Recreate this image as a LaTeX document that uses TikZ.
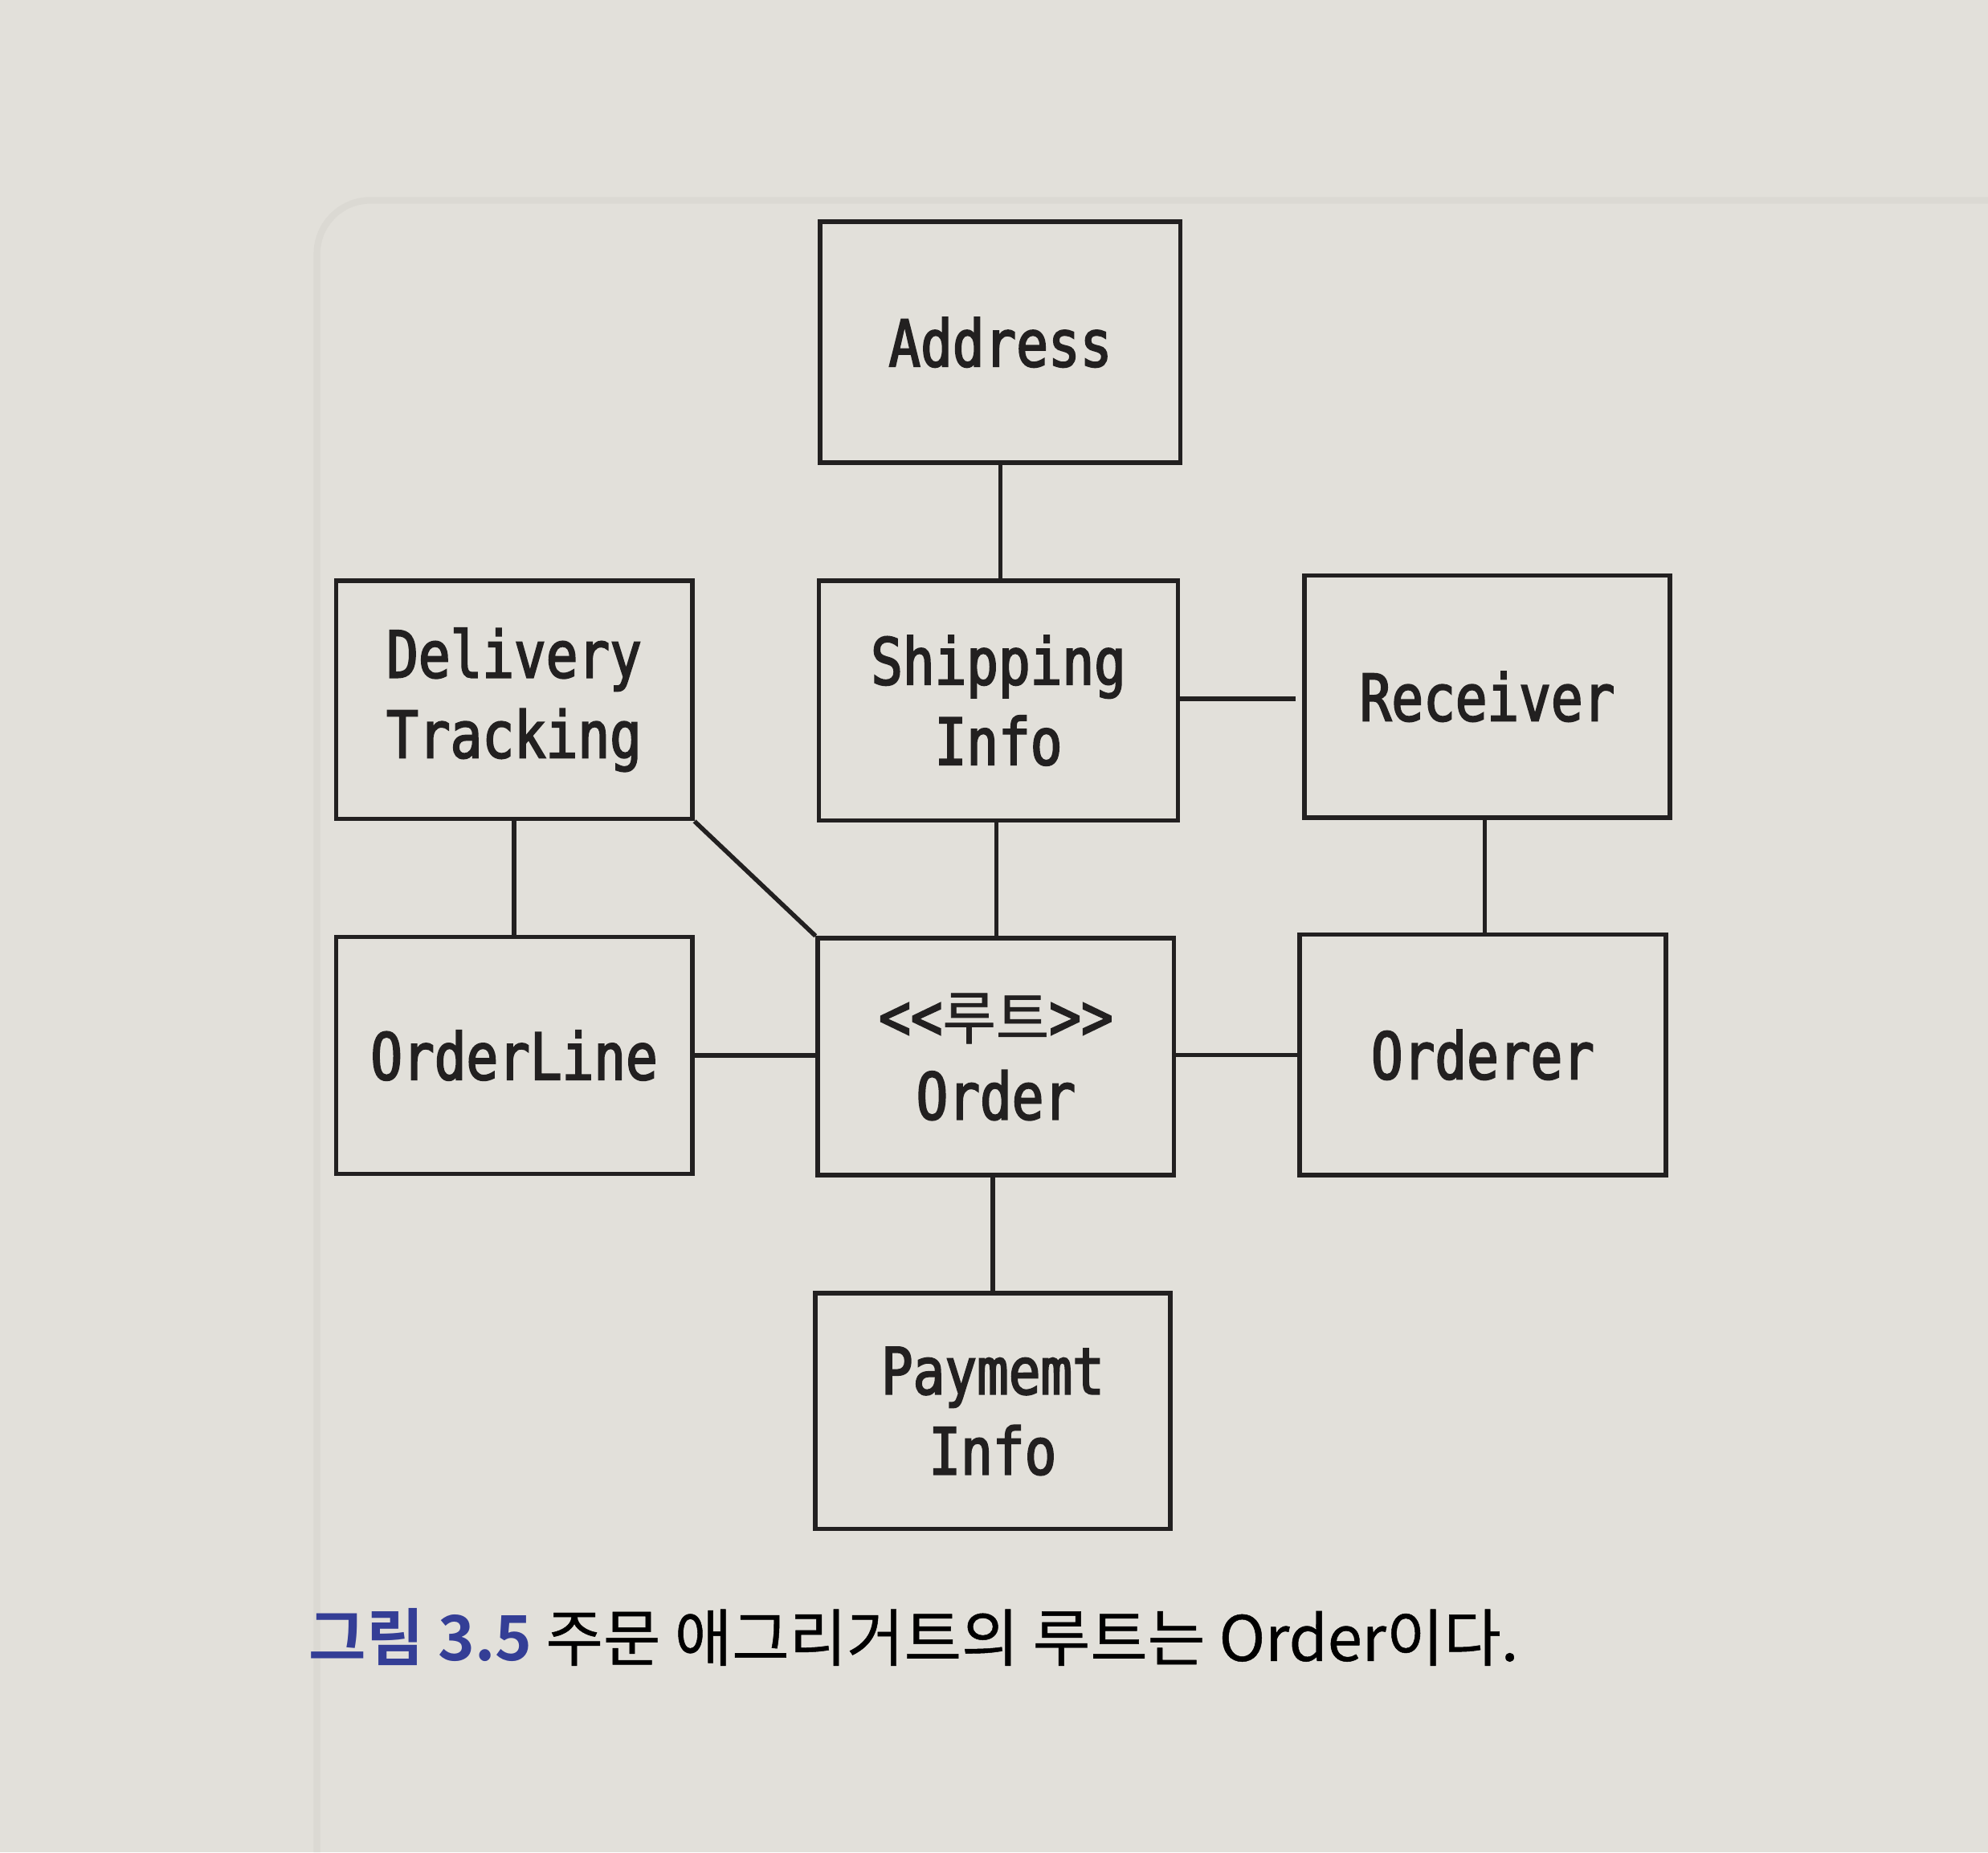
\documentclass[tikz,border=0pt]{standalone}
\usepackage{fontspec}
\newfontfamily\boxfont[FakeStretch=0.82,FakeBold=2.5]{DejaVu Sans Mono}
\newfontfamily\krbox[FakeBold=1]{Noto Sans CJK KR}
\newfontfamily\krfont[FakeBold=0.6]{Noto Sans CJK KR}
\newfontfamily\krbold{Noto Sans CJK KR Bold}
\definecolor{paper}{RGB}{226,224,218}
\definecolor{ink}{RGB}{34,32,32}
\definecolor{capblue}{RGB}{52,62,150}
\definecolor{ghost}{RGB}{219,217,211}
\tikzset{
  entity/.style={draw=ink, line width=1pt, inner sep=0pt, align=center,
    text=ink, font=\boxfont\fontsize{14.5}{18}\selectfont},
  link/.style={draw=ink, line width=1pt}
}
\begin{document}
\begin{tikzpicture}[x=0.1mm, y=-0.1mm]
\fill[paper] (0,0) rectangle (1568,1461);
\useasboundingbox (0,0) rectangle (1568,1461);
\draw[ghost, line width=1.5pt, rounded corners=12pt] (1568,158) -- (250,158) -- (250,1461);

\node[entity, minimum width=2.84cm, minimum height=1.90cm] (addr) at (789,270) {Address};
\node[entity, minimum width=2.81cm, minimum height=1.88cm] (deliv) at (405.5,552) {Delivery\\Tracking};
\node[entity, minimum width=2.83cm, minimum height=1.89cm] (ship) at (787.5,552.5) {Shipping\\Info};
\node[entity, minimum width=2.88cm, minimum height=1.91cm] (recv) at (1173,549.5) {Receiver};
\node[entity, minimum width=2.81cm, minimum height=1.87cm] (oline) at (405.5,832.5) {OrderLine};
\node[entity, minimum width=2.81cm, minimum height=1.87cm] (order) at (785.5,833.5) {<<{\krbox\fontsize{13}{18}\selectfont 루트}>>\\Order};
\node[entity, minimum width=2.89cm, minimum height=1.90cm] (orderer) at (1169.5,832) {Orderer};
\node[entity, minimum width=2.80cm, minimum height=1.86cm] (pay) at (783,1113) {Paymemt\\Info};

\coordinate (shipend) at (1022,551);

\draw[link] (addr.south) -- (addr.south |- ship.north);
\draw[link] (ship.east |- shipend) -- (shipend);
\draw[link] (deliv.south) -- (deliv.south |- oline.north);
\draw[link] (deliv.south east) -- (order.north west);
\draw[link] (order.north -| 786,0) -- (786,0 |- ship.south);
\draw[link] (recv.south -| 1171,0) -- (1171,0 |- orderer.north);
\draw[link] (oline.east) -- (order.west |- oline.east);
\draw[link] (order.east |- orderer.west) -- (orderer.west);
\draw[link] (order.south -| pay.north) -- (pay.north);

\node[anchor=base west, inner sep=0pt, font=\krfont\fontsize{14}{16}\selectfont, text=black] (caption) at (243,1310)
  {{\krbold\color{capblue}그림 3.5} 주문 애그리거트의 루트는 Order이다.};
\end{tikzpicture}
\end{document}
